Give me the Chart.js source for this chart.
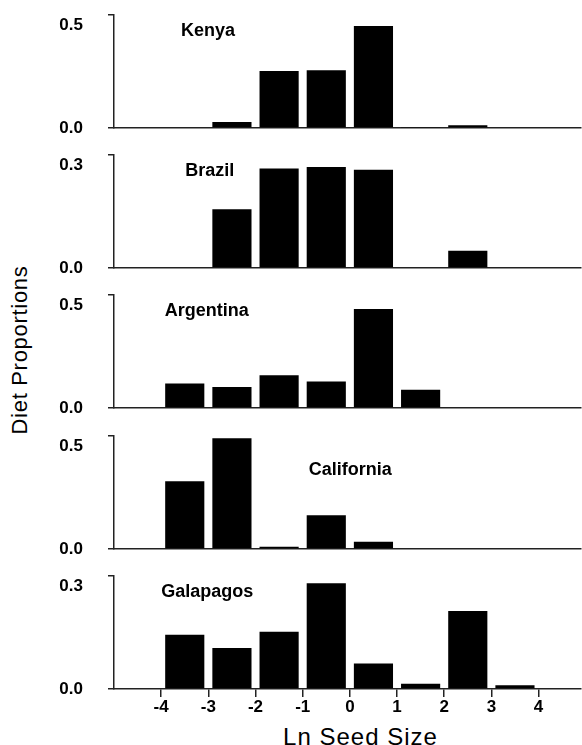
<!DOCTYPE html>
<html>
<head>
<meta charset="utf-8">
<script src="https://cdn.jsdelivr.net/npm/chart.js@4"></script>
<style>
html, body { margin: 0; padding: 0; background: #fff; }
body { width: 582px; height: 745px; position: relative; overflow: hidden; font-family: "Liberation Sans", Arial, sans-serif; }
canvas.panel { position: absolute; left: 0; }
.ytitle { position: absolute; left: -130px; top: 339px; width: 300px; height: 22px; line-height: 22px;
  font-size: 22px; letter-spacing: 0.7px; text-align: center; transform: rotate(-90deg); color: #000; }
.xtitle { position: absolute; left: 0; top: 725px; width: 721px; height: 24px; line-height: 24px;
  font-size: 24px; letter-spacing: 1px; text-align: center; color: #000; }
</style>
</head>
<body>
<div class="ytitle">Diet Proportions</div>
<div class="xtitle">Ln Seed Size</div>
<script>
// bins of ln seed size, centred on the half units
const binCenters = [-3.5, -2.5, -1.5, -0.5, 0.5, 1.5, 2.5, 3.5];
const xTickValues = [-4, -3, -2, -1, 0, 1, 2, 3, 4];
const regions = ['Kenya', 'Brazil', 'Argentina', 'California', 'Galapagos'];
const yMax = [0.5, 0.3, 0.5, 0.5, 0.3];

const kenya      = [0, 0.026, 0.252, 0.255, 0.451, 0.004, 0.012, 0];
const brazil     = [0, 0.156, 0.264, 0.268, 0.261, 0, 0.046, 0];
const argentina  = [0.108, 0.093, 0.145, 0.117, 0.438, 0.081, 0, 0];
const california = [0.30, 0.49, 0.01, 0.149, 0.032, 0, 0, 0];
const galapagos  = [0.144, 0.109, 0.152, 0.281, 0.068, 0.014, 0.207, 0.01];
const panelValues = [kenya, brazil, argentina, california, galapagos];

// page layout, px
const plotTops = [15, 155, 295, 436, 576];
const plotHeight = 113;
const topPad = 12;
const labelOffsets = [[67, 14.3], [71.3, 14.3], [50.7, 14.3], [194.7, 32.3], [47.3, 14]];

Chart.defaults.font.family = '"Liberation Sans", Arial, sans-serif';
Chart.defaults.color = '#000';

const lineColor = '#222';

// region name written inside each panel
const panelLabel = {
    id: 'panelLabel',
    afterDraw(chart, args, opts) {
        const { ctx, chartArea } = chart;
        ctx.save();
        ctx.font = 'bold 18px "Liberation Sans", Arial, sans-serif';
        ctx.fillStyle = '#000';
        ctx.textBaseline = 'alphabetic';
        ctx.textAlign = 'left';
        ctx.fillText(opts.text, chartArea.left + opts.dx, chartArea.top + opts.dy + 6.5);
        ctx.restore();
    }
};

regions.forEach((name, i) => {
    const isLast = i === regions.length - 1;
    const bottomRoom = isLast ? 32 : 14;
    const canvas = document.createElement('canvas');
    canvas.className = 'panel';
    canvas.width = 582;
    canvas.height = topPad + plotHeight + bottomRoom;
    canvas.style.top = (plotTops[i] - topPad) + 'px';
    document.body.appendChild(canvas);

    const max = yMax[i];

    new Chart(canvas, {
        type: 'bar',
        data: {
            datasets: [{
                data: binCenters.map((x, j) => ({ x: x, y: panelValues[i][j] })),
                backgroundColor: '#000',
                borderWidth: 0,
                categoryPercentage: 0.83,
                barPercentage: 1
            }]
        },
        options: {
            responsive: false,
            animation: false,
            events: [],
            layout: { padding: { top: topPad, left: 0, right: 1, bottom: 0 } },
            plugins: {
                legend: { display: false },
                tooltip: { enabled: false },
                panelLabel: { text: name, dx: labelOffsets[i][0], dy: labelOffsets[i][1] }
            },
            scales: {
                x: {
                    type: 'linear',
                    min: -5,
                    max: 4.9,
                    offset: false,
                    grid: { display: isLast, offset: false, drawOnChartArea: false, drawTicks: true,
                            tickLength: 8, color: lineColor, lineWidth: 1.5 },
                    border: { display: true, color: lineColor, width: 1.5 },
                    ticks: { display: isLast, padding: 1, maxRotation: 0, autoSkip: false,
                             font: { size: 17, weight: 'bold', lineHeight: 1.05 }, color: '#000',
                             callback: v => String(v) },
                    afterBuildTicks: s => { s.ticks = xTickValues.map(v => ({ value: v })); },
                    afterFit: s => { s.height = bottomRoom; s.paddingLeft = 0; s.paddingRight = 0; }
                },
                y: {
                    min: 0,
                    max: max,
                    grid: { drawOnChartArea: false, drawTicks: true, tickLength: 6, color: lineColor, lineWidth: 1.5 },
                    border: { display: true, color: lineColor, width: 1.5 },
                    ticks: {
                        padding: 25,
                        color: '#000',
                        font: { size: 17, weight: 'bold', lineHeight: 1.25 },
                        // top label sits a little under its tick, as in the original
                        callback: v => (v === max ? ['', v.toFixed(1)] : v.toFixed(1))
                    },
                    afterBuildTicks: s => { s.ticks = [{ value: 0 }, { value: max }]; },
                    afterFit: s => { s.width = 114; s.paddingTop = 0; s.paddingBottom = 0; }
                }
            }
        },
        plugins: [panelLabel]
    });
});
</script>
</body>
</html>
